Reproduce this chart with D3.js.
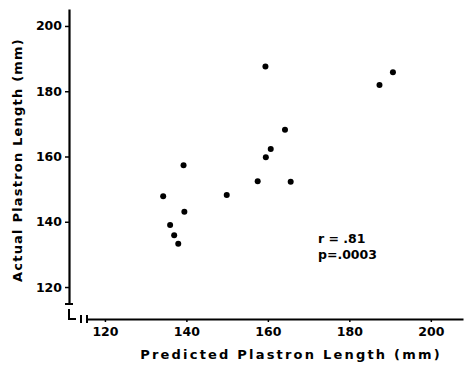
<!DOCTYPE html>
<html><head><meta charset="utf-8">
<script src="https://cdn.jsdelivr.net/npm/d3@7"></script>
<style>body{margin:0;background:#fff}svg{display:block}</style>
</head><body>
<script>
const predicted = [159.4,190.7,187.4,164.2,160.7,159.5,139.3,157.5,165.6,149.9,134.3,139.5,136.0,137.0,138.0];
const actual    = [187.6,185.8,181.9,168.2,162.3,159.8,157.3,152.4,152.3,148.2,147.8,143.1,139.0,135.9,133.3];
const xTicks = [120,140,160,180,200];
const yTicks = [120,140,160,180,200];
const xTitle = "Predicted Plastron Length (mm)";
const yTitle = "Actual Plastron Length (mm)";
const statLines = ["r = .81","p=.0003"];

const W=467,H=366;
const svg=d3.select("body").append("svg").attr("width",W).attr("height",H);
const font="'DejaVu Sans', sans-serif";
const x=d3.scaleLinear().domain([115.6,207.9]).range([87,463]);
const y=d3.scaleLinear().domain([114.8,205.2]).range([304,9]);
const axisY=319, axisX=69;

// Y axis
const ga=svg.append("g").attr("transform",`translate(${axisX},0)`)
  .call(d3.axisLeft(y).tickValues(yTicks).tickSize(4).tickSizeOuter(0).tickPadding(3).tickFormat(d3.format("d")));
ga.select(".domain").attr("stroke-width",2.2);
ga.selectAll(".tick line").attr("stroke-width",1.5);
ga.selectAll("text").attr("font-family",font).attr("font-weight","bold").attr("font-size",12.5).attr("fill","#000");
// serif at bottom of y axis
svg.append("line").attr("x1",axisX-4).attr("x2",axisX+4).attr("y1",y.range()[0]).attr("y2",y.range()[0]).attr("stroke","#000").attr("stroke-width",2);

// X axis
const gx=svg.append("g").attr("transform",`translate(0,${axisY})`)
  .call(d3.axisBottom(x).tickValues(xTicks).tickSize(3).tickSizeOuter(0).tickPadding(5).tickFormat(d3.format("d")));
gx.select(".domain").attr("stroke-width",2.2);
gx.selectAll(".tick line").attr("stroke-width",1.5);
gx.selectAll("text").attr("font-family",font).attr("font-weight","bold").attr("font-size",12.5).attr("fill","#000");
// break marks
const bk=svg.append("g").attr("stroke","#000").attr("stroke-width",2).attr("fill","none");
bk.append("path").attr("d",`M${axisX},${axisY-10}V${axisY}H${axisX+7}`);
bk.append("line").attr("x1",81).attr("x2",81).attr("y1",axisY-4).attr("y2",axisY+4);
bk.append("line").attr("x1",x.range()[0]).attr("x2",x.range()[0]).attr("y1",axisY-4).attr("y2",axisY+4);

// points
svg.append("g").selectAll("circle").data(predicted.map((p,i)=>[p,actual[i]])).join("circle")
  .attr("cx",d=>x(d[0])).attr("cy",d=>y(d[1])).attr("r",3).attr("fill","#000");

// titles
svg.append("text").attr("x",291).attr("y",359).attr("text-anchor","middle")
  .attr("font-family",font).attr("font-weight","bold").attr("font-size",13).attr("letter-spacing",2.2).text(xTitle);
svg.append("text").attr("transform","translate(22,160) rotate(-90)").attr("text-anchor","middle")
  .attr("font-family",font).attr("font-weight","bold").attr("font-size",13).attr("letter-spacing",1.2).text(yTitle);

// stats
svg.append("g").selectAll("text").data(statLines).join("text")
  .attr("x",318).attr("y",(d,i)=>243+i*16)
  .attr("font-family",font).attr("font-weight","bold").attr("font-size",12.5).text(d=>d);
</script>
</body></html>
